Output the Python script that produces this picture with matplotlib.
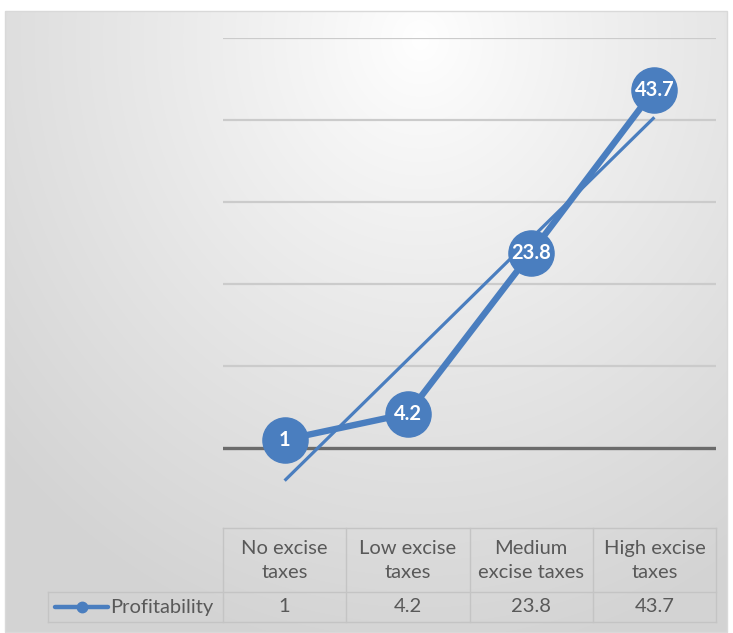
import numpy as np
import matplotlib
matplotlib.use("Agg")
import matplotlib.pyplot as plt
from matplotlib.patches import Rectangle
from matplotlib.lines import Line2D

categories = ["No excise\ntaxes", "Low excise\ntaxes", "Medium\nexcise taxes", "High excise\ntaxes"]
series_name = "Profitability"
values = [1, 4.2, 23.8, 43.7]
value_labels = ["1", "4.2", "23.8", "43.7"]
y_ticks = [0, 10, 20, 30, 40, 50]

W, H = 733, 633
BLUE = "#4A7EBF"
TXT = "#595959"
FONT = "Lato"
plt.rcParams['font.family'] = [FONT, 'DejaVu Sans']

fig = plt.figure(figsize=(W / 100, H / 100), dpi=100)
fig.patch.set_facecolor("white")

def fx(px):
    return px / W

def fy(py):
    return 1 - py / H

# background frame with radial gradient
L, T, R, B = 5, 11, 727, 632
bg = fig.add_axes([fx(L), fy(B), fx(R - L), fy(T) - fy(B)])
bg.set_axis_off()
yy, xx = np.mgrid[0:(B - T), 0:(R - L)]
cx, cy = 420 - L, 40 - T
d = np.sqrt(((xx - cx) / 560.0) ** 2 + ((yy - cy) / 620.0) ** 2)
d = np.clip(d, 0, 1)
shade = 1.0 - 0.17 * d ** 0.9
img = np.dstack([shade, shade, shade])
bg.imshow(img, aspect="auto", extent=[0, 1, 0, 1], origin="upper")
bg.set_xlim(0, 1)
bg.set_ylim(0, 1)
fig.add_artist(Rectangle((fx(L), fy(B)), fx(R - L), fy(T) - fy(B),
                         transform=fig.transFigure, fill=False,
                         edgecolor="#d9d9d9", linewidth=1.0))

# main plot area
PL, PR = 223, 716
y_top_px, y_zero_px = 38, 448
unit = (y_zero_px - y_top_px) / 50.0
y_bot_px = y_zero_px + 10 * unit
ax = fig.add_axes([fx(PL), fy(y_bot_px), fx(PR - PL), fy(y_top_px) - fy(y_bot_px)])
ax.set_facecolor("none")
ax.set_xlim(-0.5, len(values) - 0.5)
ax.set_ylim(-10, 50)
for s in ax.spines.values():
    s.set_visible(False)
ax.set_xticks([])
ax.set_yticks([])

for t in y_ticks:
    if t == 0:
        ax.axhline(t, color="#6b6b6b", linewidth=2.4, zorder=1)
    else:
        ax.axhline(t, color="#cbcbcb", linewidth=1.6, zorder=1)

x = np.arange(len(values))
# linear trendline
k, b0 = np.polyfit(x + 1, values, 1)
ax.plot([x[0], x[-1]], [k * (x[0] + 1) + b0, k * (x[-1] + 1) + b0],
        color=BLUE, linewidth=2.3, zorder=3, solid_capstyle="butt")
ax.plot(x, values, color=BLUE, linewidth=4.6, zorder=4,
        marker="o", markersize=32.5, markerfacecolor=BLUE, markeredgecolor=BLUE)
for xi, v, lab in zip(x, values, value_labels):
    ax.text(xi, v, lab, ha="center", va="center", color="white",
            fontsize=14.5, fontweight="bold", zorder=5)

# data table
col_edges = [PL + i * (PR - PL) / len(values) for i in range(len(values) + 1)]
tab_top, tab_mid, tab_bot = 528, 592, 622
tab_left = 48
lc = "#c4c4c4"
def hline(x0, x1, y):
    fig.add_artist(Line2D([fx(x0), fx(x1)], [fy(y), fy(y)], transform=fig.transFigure, color=lc, linewidth=1.0))
def vline(xp, y0, y1):
    fig.add_artist(Line2D([fx(xp), fx(xp)], [fy(y0), fy(y1)], transform=fig.transFigure, color=lc, linewidth=1.0))

hline(PL, PR, tab_top)
hline(tab_left, PR, tab_mid)
hline(tab_left, PR, tab_bot)
for i, e in enumerate(col_edges):
    vline(e, tab_top, tab_bot)
vline(tab_left, tab_mid, tab_bot)

TFS = 14.5
for i, cat in enumerate(categories):
    cxp = (col_edges[i] + col_edges[i + 1]) / 2
    fig.text(fx(cxp), fy((tab_top + tab_mid) / 2 + 0.5), cat, ha="center", va="center",
             color=TXT, fontsize=TFS, linespacing=1.5)
    fig.text(fx(cxp), fy((tab_mid + tab_bot) / 2), value_labels[i], ha="center", va="center",
             color=TXT, fontsize=TFS)

# legend key in table
ky = (tab_mid + tab_bot) / 2
fig.add_artist(Line2D([fx(55), fx(108)], [fy(ky), fy(ky)], transform=fig.transFigure,
                      color=BLUE, linewidth=3.2, solid_capstyle="round"))
fig.add_artist(Line2D([fx(81.5)], [fy(ky)], transform=fig.transFigure, marker="o",
                      markersize=7.5, color=BLUE, linestyle="none"))
fig.text(fx(110), fy(ky), series_name, ha="left", va="center", color=TXT, fontsize=TFS)

fig.savefig("out.png", dpi=100)
